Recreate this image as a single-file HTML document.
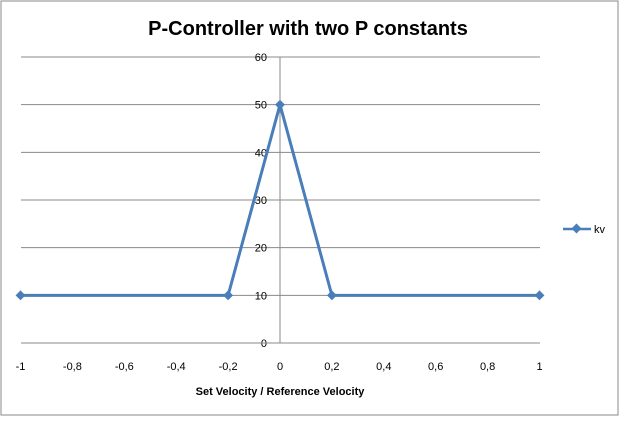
<!DOCTYPE html>
<html><head><style>
body{margin:0;background:#fff;}
svg text{font-family:"Liberation Sans",sans-serif;}
</style></head><body>
<svg id="chart" width="620" height="417" xmlns="http://www.w3.org/2000/svg">
<rect x="1" y="1" width="617" height="414" fill="#fff" stroke="#888"/>
<text x="308" y="35" text-anchor="middle" font-size="20" font-weight="bold" fill="#000">P-Controller with two P constants</text>
<text x="280" y="395" text-anchor="middle" font-size="11" font-weight="bold" fill="#000">Set Velocity / Reference Velocity</text>
<g id="grid"></g><g id="axes"></g><g id="series"></g>
<g>
<line x1="563" y1="229" x2="591" y2="229" stroke="#4a7ebb" stroke-width="2.5"/>
<rect x="573" y="225" width="7" height="7" fill="#4a7ebb" transform="rotate(45 576.5 228.5)"/>
<text x="594" y="233" font-size="11" fill="#000">kv</text>
</g>
</svg>
<script>
const xs=[-1,-0.2,0,0.2,1];
const kv=[10,10,50,10,10];
const xTicks=[-1,-0.8,-0.6,-0.4,-0.2,0,0.2,0.4,0.6,0.8,1];
const yTicks=[0,10,20,30,40,50,60];
const NS="http://www.w3.org/2000/svg";
const X=v=>280+v*259.5, Y=v=>343-v*(286/60);
const g=document.getElementById('grid'),a=document.getElementById('axes'),s=document.getElementById('series');
function mk(t,at,p){const e=document.createElementNS(NS,t);for(const k in at)e.setAttribute(k,at[k]);p.appendChild(e);return e;}
yTicks.forEach(v=>{
 if(v>0){const l=mk('line',{x1:21,x2:540,y1:Y(v),y2:Y(v),stroke:'#888','stroke-width':1},g);
 
 }
 const t=mk('text',{x:267,y:Y(v)+4,'text-anchor':'end','font-size':11,fill:'#000'},a);t.textContent=v;
 
 
});
const ax=mk('line',{x1:21,x2:540,y1:Y(0),y2:Y(0),stroke:'#888'},a);


const ay=mk('line',{x1:X(0),x2:X(0),y1:Y(60),y2:Y(0),stroke:'#888'},a);


xTicks.forEach(v=>{const t=mk('text',{x:X(v),y:370,'text-anchor':'middle','font-size':11,fill:'#000'},a);
 t.textContent=String(v).replace('.',',');
 
 });
const pl=mk('polyline',{points:xs.map((x,i)=>X(x)+','+Y(kv[i])).join(' '),fill:'none',stroke:'#4a7ebb','stroke-width':3,'stroke-linejoin':'round'},s);


xs.forEach((x,i)=>{const px=X(x),py=Y(kv[i]);
 const m=mk('rect',{x:px-3.5,y:py-3.5,width:7,height:7,fill:'#4a7ebb',transform:`rotate(45 ${px} ${py})`},s);
 
 });
</script>
</body></html>
